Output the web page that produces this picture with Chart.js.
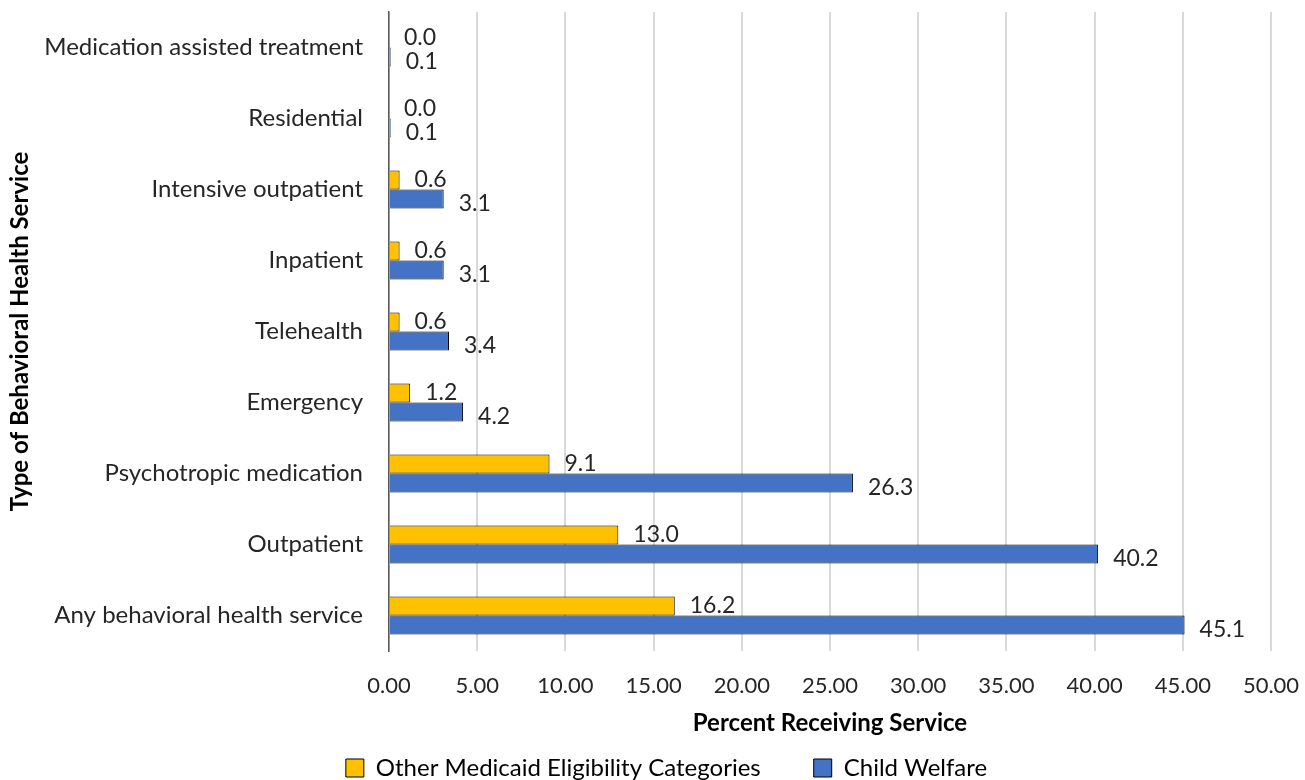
<!DOCTYPE html>
<html>
<head>
<meta charset="utf-8">
<script src="https://cdn.jsdelivr.net/npm/chart.js@4"></script>
<style>
  html, body { margin: 0; padding: 0; background: #fff; }
  #wrap { width: 1305px; height: 780px; }
</style>
</head>
<body>
<div id="wrap"><canvas id="chart" width="1305" height="780"></canvas></div>
<script>
// Categories, top to bottom
const services = [
    'Medication assisted treatment',
    'Residential',
    'Intensive outpatient',
    'Inpatient',
    'Telehealth',
    'Emergency',
    'Psychotropic medication',
    'Outpatient',
    'Any behavioral health service'
];

// Percent receiving service
const otherMedicaid = [0.0, 0.0, 0.6, 0.6, 0.6, 1.2, 9.1, 13.0, 16.2];
const childWelfare = [0.1, 0.1, 3.1, 3.1, 3.4, 4.2, 26.3, 40.2, 45.1];

const seriesNames = ['Other Medicaid Eligibility Categories', 'Child Welfare'];
const seriesColors = ['#FFC000', '#4472C4'];

const xMin = 0;
const xMax = 50;
const xStep = 5;

const FONT = 'Lato, "Open Sans", sans-serif';
const TEXT = '#262626';

/**
 * Draw value labels to the right of each bar
 */
const valueLabels = {
    id: 'valueLabels',
    afterDatasetsDraw(chart) {
        const ctx = chart.ctx;
        ctx.save();
        ctx.font = '23px ' + FONT;
        ctx.fillStyle = TEXT;
        ctx.textAlign = 'left';
        ctx.textBaseline = 'middle';
        chart.data.datasets.forEach((ds, i) => {
            const meta = chart.getDatasetMeta(i);
            meta.data.forEach((bar, j) => {
                const dy = i === 0 ? 0 : 5;
                ctx.fillText(ds.data[j].toFixed(1), bar.x + 15, bar.y + dy);
            });
        });
        ctx.restore();
    }
};

/**
 * Nudge the legend to the right so it sits under the plot like the original
 */
const legendShift = {
    id: 'legendShift',
    afterLayout(chart) {
        const lg = chart.legend;
        if (!lg) return;
        lg.left += 31;
        lg.right += 31;
        if (lg.legendHitBoxes) lg.legendHitBoxes.forEach(b => { b.left += 31; });
    }
};

const ctx = document.getElementById('chart').getContext('2d');
new Chart(ctx, {
    type: 'bar',
    data: {
        labels: services,
        datasets: [
            {
                label: seriesNames[0],
                data: otherMedicaid,
                backgroundColor: seriesColors[0],
                borderColor: '#000',
                borderWidth: 1
            },
            {
                label: seriesNames[1],
                data: childWelfare,
                backgroundColor: seriesColors[1],
                borderColor: '#000',
                borderWidth: 1
            }
        ]
    },
    options: {
        indexAxis: 'y',
        responsive: false,
        animation: false,
        categoryPercentage: 0.535,
        barPercentage: 1.0,
        layout: {
            padding: { top: 12, right: 34, bottom: -10, left: 0 }
        },
        scales: {
            x: {
                min: xMin,
                max: xMax,
                ticks: {
                    stepSize: xStep,
                    color: TEXT,
                    font: { family: FONT, size: 22 },
                    padding: 22,
                    callback: v => Number(v).toFixed(2)
                },
                grid: {
                    color: '#d9d9d9',
                    lineWidth: 2,
                    drawTicks: false
                },
                border: { display: false },
                title: {
                    display: true,
                    text: 'Percent Receiving Service',
                    color: '#000',
                    font: { family: FONT, size: 24, weight: 'bold' },
                    padding: { top: 8, bottom: 8 }
                },
                afterFit: s => {
                    s.height = 95;
                    s.paddingLeft = 0;
                    s.paddingRight = 0;
                }
            },
            y: {
                ticks: {
                    color: TEXT,
                    font: { family: FONT, size: 24 },
                    padding: 26
                },
                grid: { display: false, drawTicks: false },
                border: { display: true, color: '#595959', width: 1.5 },
                title: {
                    display: true,
                    text: 'Type of Behavioral Health Service',
                    color: '#000',
                    font: { family: FONT, size: 24, weight: 'bold' },
                    padding: { top: 6, bottom: 0 }
                },
                afterFit: s => {
                    s.width = 389;
                    s.paddingTop = 0;
                    s.paddingBottom = 0;
                }
            }
        },
        plugins: {
            legend: {
                position: 'bottom',
                labels: {
                    color: TEXT,
                    font: { family: FONT, size: 24 },
                    boxWidth: 18,
                    boxHeight: 18,
                    padding: 10,
                    generateLabels: chart => chart.data.datasets.map((ds, i) => ({
                        text: ds.label + (i === 0 ? '       ' : ''),
                        fillStyle: ds.backgroundColor,
                        strokeStyle: '#000',
                        lineWidth: 1,
                        datasetIndex: i
                    }))
                }
            },
            tooltip: { enabled: false }
        }
    },
    plugins: [valueLabels, legendShift]
});
</script>
</body>
</html>
